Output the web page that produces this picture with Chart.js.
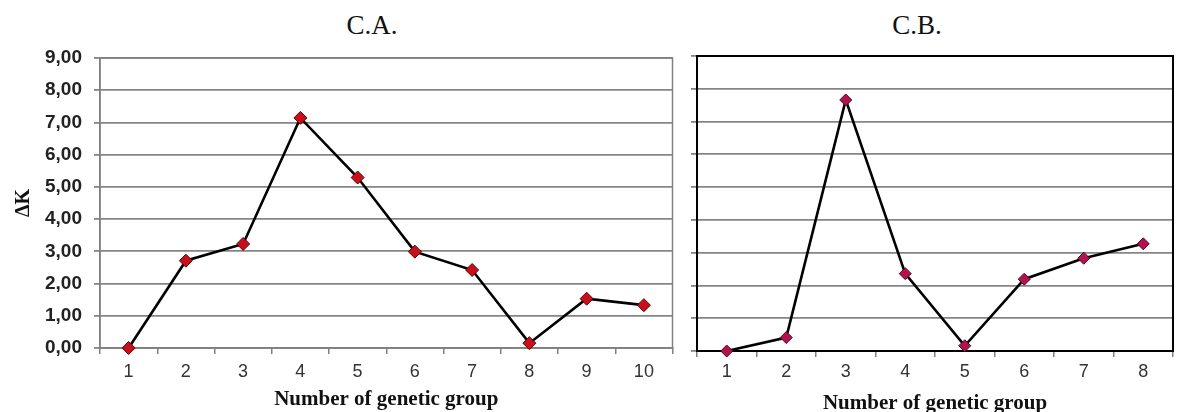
<!DOCTYPE html>
<html>
<head>
<meta charset="utf-8">
<script src="https://cdn.jsdelivr.net/npm/chart.js@4.4.1/dist/chart.umd.min.js"></script>
<style>
  html, body { margin: 0; padding: 0; background: #fff; }
  body { width: 1180px; height: 412px; position: relative; overflow: hidden; }
  .box { position: absolute; top: 0; height: 412px; }
  .ttl {
    position: absolute; top: 25px; transform: translate(-50%, -50%);
    font-family: 'Liberation Serif', serif; font-size: 27px; color: #111; white-space: nowrap;
  }
</style>
</head>
<body>
<div class="ttl" style="left:372px">C.A.</div>
<div class="ttl" style="left:917px">C.B.</div>
<div class="box" style="left:0; width:680px"><canvas id="chart-a"></canvas></div>
<div class="box" style="left:680px; width:500px"><canvas id="chart-b"></canvas></div>
<script>
// data
const groupsA = ['1', '2', '3', '4', '5', '6', '7', '8', '9', '10'];
const deltaKA = [0, 2.71, 3.23, 7.14, 5.29, 2.99, 2.42, 0.15, 1.53, 1.33];
const groupsB = ['1', '2', '3', '4', '5', '6', '7', '8'];
const deltaKB = [0, 0.41, 7.66, 2.36, 0.16, 2.19, 2.83, 3.27];
const yTicks = [0, 1, 2, 3, 4, 5, 6, 7, 8, 9];

// plot frame (right edge + top) drawn under the data
const framePlugin = {
  id: 'frame',
  beforeDatasetsDraw(chart, args, opts) {
    const { ctx, chartArea: a } = chart;
    ctx.save();
    ctx.strokeStyle = opts.color;
    ctx.lineWidth = opts.width;
    ctx.strokeRect(a.left, a.top, a.right - a.left, a.bottom - a.top);
    ctx.restore();
  }
};

const makeChart = (id, labels, values, cfg) => {
  const ctx = document.getElementById(id).getContext('2d');
  return new Chart(ctx, {
    type: 'line',
    data: {
      labels: labels,
      datasets: [{
        data: values,
        borderColor: '#000',
        borderWidth: 2.6,
        tension: 0,
        clip: false,
        pointStyle: 'rectRot',
        pointRadius: cfg.pointRadius,
        pointBackgroundColor: cfg.markerFill,
        pointBorderColor: cfg.markerEdge,
        pointBorderWidth: 1,
      }],
    },
    options: {
      responsive: true,
      maintainAspectRatio: false,
      animation: false,
      events: [],
      layout: { padding: { top: cfg.top, right: cfg.right, left: 0, bottom: 0 } },
      plugins: {
        legend: { display: false },
        tooltip: { enabled: false },
        frame: { color: cfg.frameColor, width: cfg.frameWidth },
      },
      scales: {
        x: {
          type: 'category',
          offset: true,
          afterFit: (s) => { s.height = cfg.xHeight; },
          grid: {
            offset: true,
            drawOnChartArea: false,
            tickLength: 6,
            color: '#808080',
            lineWidth: 1.5,
          },
          border: { color: cfg.frameColor, width: cfg.frameWidth },
          ticks: {
            padding: cfg.xTickPad,
            color: '#333',
            font: { family: "'Liberation Sans', Arial, sans-serif", size: 18 },
          },
          title: {
            display: true,
            text: 'Number of genetic group',
            color: '#111',
            padding: { top: 0, bottom: cfg.xTitlePad },
            font: { family: "'Liberation Serif', serif", size: 21, weight: 'bold' },
          },
        },
        y: {
          min: 0,
          max: 9,
          afterFit: (s) => { s.width = cfg.yWidth; },
          afterBuildTicks: (s) => { s.ticks = yTicks.map((v) => ({ value: v })); },
          grid: {
            color: '#858585',
            lineWidth: 1.8,
            tickLength: 6,
          },
          border: { color: cfg.frameColor, width: cfg.frameWidth },
          ticks: {
            padding: 12,
            color: '#222',
            font: { family: "'Liberation Sans', Arial, sans-serif", size: 19, weight: 'bold' },
            callback: (v) => (cfg.yLabels ? Number(v).toFixed(2).replace('.', ',') : ''),
          },
          title: {
            display: cfg.yLabels,
            text: 'ΔK',
            color: '#111',
            padding: { top: 12, bottom: 0 },
            font: { family: "'Liberation Serif', serif", size: 20, weight: 'bold' },
          },
        },
      },
    },
    plugins: [framePlugin],
  });
};

makeChart('chart-a', groupsA, deltaKA, {
  top: 58, right: 7, xHeight: 64, yWidth: 100, xTickPad: 7, xTitlePad: 0,
  yLabels: true, pointRadius: 6.5, markerFill: '#c8101c', markerEdge: '#5a0000',
  frameColor: '#808080', frameWidth: 1.5,
});

makeChart('chart-b', groupsB, deltaKB, {
  top: 56, right: 1, xHeight: 61, yWidth: 17, xTickPad: 4, xTitlePad: -4,
  yLabels: false, pointRadius: 6, markerFill: '#b3124e', markerEdge: '#4a0a20',
  frameColor: '#000', frameWidth: 2,
});
</script>
</body>
</html>
